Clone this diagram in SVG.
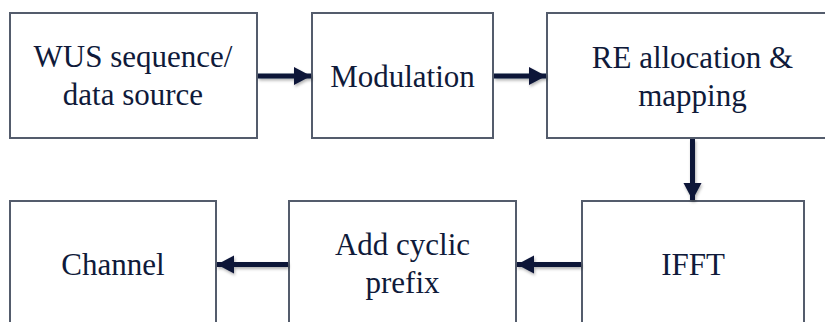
<svg xmlns="http://www.w3.org/2000/svg" width="825" height="322" viewBox="0 0 825 322">
<style>
.box{fill:#fff;stroke:#545c6c;stroke-width:2}
.lbl{font-family:"Liberation Serif","Times New Roman",serif;font-size:31px;fill:#0f1a3a;text-anchor:middle}
.con{stroke:#0b1638;stroke-width:5;fill:none}
</style>
<defs>
<marker id="ah" markerUnits="userSpaceOnUse" markerWidth="18" markerHeight="20" refX="17" refY="10" orient="auto">
<path d="M0,1 L17,10 L0,19 Z" fill="#0b1638"/>
</marker>
<filter id="sh" x="-20%" y="-50%" width="140%" height="200%">
<feDropShadow dx="1" dy="2" stdDeviation="1.5" flood-color="#000" flood-opacity="0.3"/>
</filter>
</defs>
<rect width="825" height="322" fill="#fff"/>
<g id="wus"><rect class="box" x="10" y="13" width="247" height="125"/><text class="lbl" x="133" y="67">WUS sequence/</text><text class="lbl" x="133" y="105">data source</text></g>
<g id="modulation"><rect class="box" x="312" y="13" width="181" height="125"/><text class="lbl" x="402.5" y="87">Modulation</text></g>
<g id="re"><rect class="box" x="547" y="13" width="300" height="125"/><text class="lbl" x="692.5" y="68">RE allocation &amp;</text><text class="lbl" x="692.5" y="106">mapping</text></g>
<g id="ifft"><rect class="box" x="582" y="201" width="222" height="130"/><text class="lbl" x="693" y="275">IFFT</text></g>
<g id="cp"><rect class="box" x="289" y="201" width="227" height="130"/><text class="lbl" x="402.5" y="255">Add cyclic</text><text class="lbl" x="402.5" y="293">prefix</text></g>
<g id="channel"><rect class="box" x="10" y="201" width="206" height="130"/><text class="lbl" x="113" y="275">Channel</text></g>
<g id="connectors" filter="url(#sh)">
<path class="con" d="M258,76 H311" marker-end="url(#ah)"/>
<path class="con" d="M494,76 H546" marker-end="url(#ah)"/>
<path class="con" d="M692.5,139 V200" marker-end="url(#ah)"/>
<path class="con" d="M581,264.5 H517" marker-end="url(#ah)"/>
<path class="con" d="M288,264.5 H217" marker-end="url(#ah)"/>
</g>
</svg>
